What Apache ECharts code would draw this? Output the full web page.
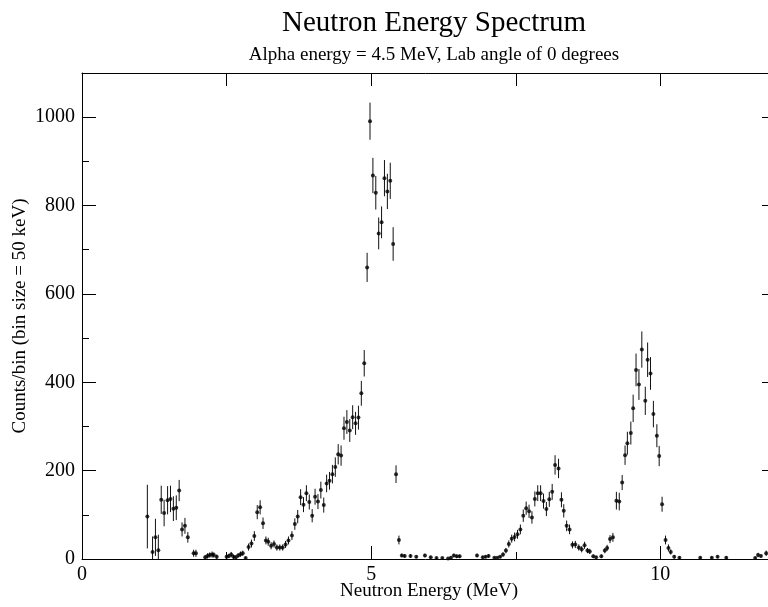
<!DOCTYPE html>
<html>
<head>
<meta charset="utf-8">
<script src="https://cdn.jsdelivr.net/npm/echarts@6/dist/echarts.min.js"></script>
<style>html,body{margin:0;padding:0;background:#fff;}#chart{width:768px;height:607px;}</style>
</head>
<body>
<div id="chart"></div>
<script>
// Neutron energies (MeV) of plotted bins
const energies = [
 1.13,1.22,1.27,1.32,1.37,1.42,1.48,1.53,1.58,1.63,1.68,1.73,1.78,1.83,1.93,1.97,
 2.13,2.17,2.21,2.25,2.28,2.33,2.50,2.54,2.58,2.62,2.66,2.70,2.74,2.78,2.83,2.88,2.93,2.98,
 3.03,3.08,3.13,3.18,3.22,3.27,3.32,3.37,3.42,3.47,3.52,3.57,3.63,3.68,3.73,3.78,3.83,3.88,3.93,3.98,
 4.03,4.08,4.13,4.18,4.23,4.28,4.33,4.38,4.43,4.48,4.53,4.58,4.63,4.68,4.73,4.78,4.83,4.88,4.93,4.98,
 5.03,5.08,5.13,5.18,5.23,5.28,5.33,5.38,5.43,5.48,5.53,5.58,5.68,5.78,5.93,
 6.03,6.13,6.23,6.33,6.38,6.43,6.48,6.53,6.83,6.93,6.98,
 7.03,7.13,7.18,7.23,7.28,7.33,7.38,7.43,7.48,7.53,7.58,7.63,7.68,7.73,7.78,7.83,7.88,7.93,7.98,
 8.03,8.08,8.13,8.18,8.24,8.29,8.33,8.38,8.43,8.48,8.53,8.59,8.64,8.69,8.74,8.78,8.84,8.89,8.98,
 9.04,9.08,9.13,9.18,9.24,9.29,9.34,9.39,9.43,9.49,9.53,9.58,9.63,9.68,9.74,9.78,9.83,9.88,9.94,9.98,
 10.03,10.09,10.14,10.18,10.24,10.33,10.69,10.89,10.99,11.14,11.64,11.69,11.74,11.83
];
// Counts per 50 keV bin
const counts = [
 96,16,49,20,134,104,133,136,114,116,155,67,75,49,13,13,
 4,7,9,10,9,5,5,7,10,5,4,8,11,13,2,27,35,52,
 106,117,81,42,39,30,34,26,26,26,33,42,53,79,96,140,123,149,129,98,
 141,130,156,122,171,177,192,208,237,234,296,310,291,321,307,320,375,443,660,991,
 868,829,737,762,862,832,856,713,192,43,8,7,7,5,8,
 4,2,2,1,3,8,6,6,8,4,5,
 7,3,3,5,10,19,34,46,50,56,67,98,115,108,94,136,149,149,131,
 113,135,152,213,205,134,109,75,67,32,33,26,22,31,19,17,6,4,6,
 19,25,45,49,132,130,173,235,262,285,341,428,395,474,358,451,420,328,279,233,
 124,43,25,16,5,3,3,3,5,3,2,9,7,13
];
// Error bar half-heights (counts)
const errors = [
 72,35,42,35,32,30,32,30,28,28,24,16,18,12,8,8,
 5,6,6,7,6,5,5,5,6,5,4,5,6,6,3,8,9,11,
 16,16,13,9,9,8,8,7,7,7,8,9,10,13,15,18,17,18,17,15,
 18,17,19,17,20,20,21,22,23,23,26,27,26,27,26,27,28,30,33,42,
 40,38,36,36,41,40,41,38,20,10,4,4,4,3,4,
 3,2,2,2,3,4,4,4,4,3,3,
 4,2,2,3,5,6,8,9,10,10,11,14,15,15,14,17,18,18,17,
 16,17,18,22,22,17,15,12,11,8,8,7,7,8,6,6,4,3,4,
 6,7,9,10,20,20,17,22,26,26,31,37,35,41,32,39,37,30,26,23,
 17,10,8,6,4,3,3,3,3,3,3,5,4,6
];
const xMajorTicks = [0, 5, 10];
const xMinorTicks = [2.5, 7.5];
const xTopTicks = [2.5, 5, 7.5, 10];
const yMajorTicks = [0, 200, 400, 600, 800, 1000];
const yMinorTicks = [100, 300, 500, 700, 900];

const FONT = '"Liberation Serif", "DejaVu Serif", serif';
const chart = echarts.init(document.getElementById('chart'), null, {renderer: 'canvas'});

const points = energies.map((e, i) => [e, counts[i]]);
const bars = energies.map((e, i) => [e, counts[i] - errors[i], counts[i] + errors[i]]);

const line = {color: '#000', width: 1};
const gridBox = {left: 82, top: 73, width: 694, height: 486, containLabel: false, outerBoundsMode: 'none'};
const plain = v => String(v);

function xAx(extra) {
  return Object.assign({type: 'value', min: 0, max: 12, splitLine: {show: false}}, extra);
}
function yAx(extra) {
  return Object.assign({type: 'value', min: 0, max: 1100, splitLine: {show: false}}, extra);
}

chart.setOption({
  animation: false,
  backgroundColor: '#fff',
  title: [
    {text: 'Neutron Energy Spectrum', left: 429, top: 4, textAlign: 'center',
     textStyle: {fontFamily: FONT, fontSize: 29, fontWeight: 'normal', color: '#000'}},
    {text: 'Alpha energy = 4.5 MeV, Lab angle of 0 degrees', left: 429, top: 41, textAlign: 'center',
     textStyle: {fontFamily: FONT, fontSize: 19, fontWeight: 'normal', color: '#000'}}
  ],
  grid: [Object.assign({}, gridBox), Object.assign({}, gridBox)],
  xAxis: [
    xAx({
      gridIndex: 0, position: 'bottom',
      axisLine: {show: true, onZero: false, lineStyle: line},
      axisTick: {show: true, inside: true, length: 13, customValues: xMajorTicks, lineStyle: line},
      axisLabel: {show: true, customValues: xMajorTicks, formatter: plain, margin: 6,
                  fontFamily: FONT, fontSize: 20, color: '#000'},
      name: 'Neutron Energy (MeV)', nameLocation: 'middle', nameGap: 23, nameMoveOverlap: false,
      nameTextStyle: {fontFamily: FONT, fontSize: 19, color: '#000'}
    }),
    xAx({
      gridIndex: 0, position: 'top',
      axisLine: {show: true, onZero: false, lineStyle: line},
      axisTick: {show: true, inside: true, length: 13, customValues: xTopTicks, lineStyle: line},
      axisLabel: {show: false}
    }),
    xAx({
      gridIndex: 1, position: 'bottom',
      axisLine: {show: false, onZero: false},
      axisTick: {show: true, inside: true, length: 7, customValues: xMinorTicks, lineStyle: line},
      axisLabel: {show: false}
    })
  ],
  yAxis: [
    yAx({
      gridIndex: 0, position: 'left',
      axisLine: {show: true, onZero: false, lineStyle: line},
      axisTick: {show: true, inside: true, length: 14, customValues: yMajorTicks, lineStyle: line},
      axisLabel: {show: true, customValues: yMajorTicks, formatter: plain, margin: 7,
                  fontFamily: FONT, fontSize: 20, color: '#000'},
      name: 'Counts/bin (bin size = 50 keV)', nameLocation: 'middle', nameGap: 52, nameMoveOverlap: false,
      nameTextStyle: {fontFamily: FONT, fontSize: 19, color: '#000'}
    }),
    yAx({
      gridIndex: 0, position: 'right',
      axisLine: {show: true, onZero: false, lineStyle: line},
      axisTick: {show: true, inside: true, length: 14, customValues: yMajorTicks, lineStyle: line},
      axisLabel: {show: false}
    }),
    yAx({
      gridIndex: 1, position: 'left',
      axisLine: {show: false, onZero: false},
      axisTick: {show: true, inside: true, length: 7, customValues: yMinorTicks, lineStyle: line},
      axisLabel: {show: false}
    })
  ],
  series: [
    {
      type: 'custom', xAxisIndex: 0, yAxisIndex: 0, clip: true,
      data: bars,
      encode: {x: 0, y: [1, 2]},
      renderItem: function (params, api) {
        const x = api.value(0);
        const lo = api.coord([x, api.value(1)]);
        const hi = api.coord([x, api.value(2)]);
        return {type: 'line', shape: {x1: lo[0], y1: lo[1], x2: hi[0], y2: hi[1]},
                style: {stroke: '#111', lineWidth: 1}};
      },
      silent: true
    },
    {
      type: 'scatter', xAxisIndex: 0, yAxisIndex: 0,
      data: points, symbol: 'circle', symbolSize: 4,
      itemStyle: {color: '#000'}, silent: true
    }
  ]
});
</script>
</body>
</html>
